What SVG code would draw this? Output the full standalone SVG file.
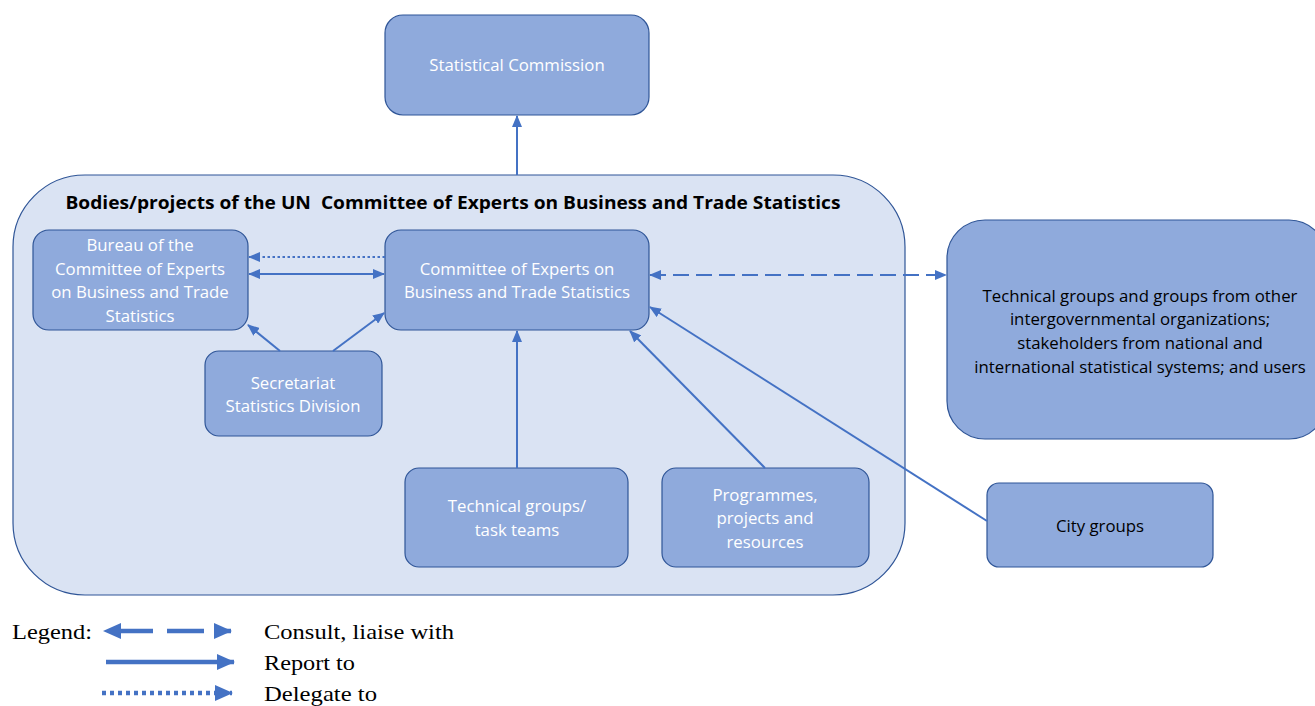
<svg xmlns="http://www.w3.org/2000/svg" width="1315" height="706" viewBox="0 0 1315 706">
<defs>
<marker id="ah" markerUnits="userSpaceOnUse" markerWidth="12" markerHeight="10" refX="11" refY="5" orient="auto-start-reverse"><path d="M0,0 L12,5 L0,10 Z" fill="#4472C4"/></marker>
<marker id="ahL" markerUnits="userSpaceOnUse" markerWidth="18" markerHeight="16" refX="17" refY="8" orient="auto-start-reverse"><path d="M0,0 L18,8 L0,16 Z" fill="#4472C4"/></marker>
<style>
.node{fill:#8FAADC;stroke:#2F5597;stroke-width:1.2}
.cont{fill:#DAE3F3;stroke:#2F5597;stroke-width:1.2}
.t{font-family:"Open Sans","Liberation Sans",sans-serif;font-size:16.8px;text-anchor:middle}
.w{fill:#FFFFFF}
.b{fill:#000000}
.c{stroke:#4472C4;stroke-width:2;fill:none}
.lg{font-family:"Liberation Serif",serif;font-size:22px;fill:#000}
</style>
</defs>
<rect width="1315" height="706" fill="#FFFFFF"/>
<g id="container">
<rect class="cont" x="13" y="175" width="892" height="420" rx="72" ry="72"/>
<text x="453" y="209" style="white-space:pre" font-family="'Open Sans','Liberation Sans',sans-serif" font-weight="bold" font-size="17.5" text-anchor="middle" fill="#000" textLength="775" lengthAdjust="spacingAndGlyphs">Bodies/projects of the UN  Committee of Experts on Business and Trade Statistics</text>
</g>
<g id="statcom"><rect class="node" x="385" y="15" width="264" height="100" rx="18"/><text class="t w" x="517" y="71">Statistical Commission</text></g>
<g id="bureau"><rect class="node" x="33" y="230" width="215" height="100" rx="16"/>
<text class="t w" x="140" y="251">Bureau of the</text><text class="t w" x="140" y="275">Committee of Experts</text><text class="t w" x="140" y="298">on Business and Trade</text><text class="t w" x="140" y="322">Statistics</text></g>
<g id="committee"><rect class="node" x="385" y="230" width="264" height="100" rx="16"/>
<text class="t w" x="517" y="275">Committee of Experts on</text><text class="t w" x="517" y="298">Business and Trade Statistics</text></g>
<g id="secretariat"><rect class="node" x="205" y="351" width="177" height="85" rx="14"/>
<text class="t w" x="293" y="389">Secretariat</text><text class="t w" x="293" y="412">Statistics Division</text></g>
<g id="techteams"><rect class="node" x="405" y="468" width="223" height="99" rx="14"/>
<text class="t w" x="517" y="512">Technical groups/</text><text class="t w" x="517" y="536">task teams</text></g>
<g id="programmes"><rect class="node" x="662" y="468" width="207" height="99" rx="14"/>
<text class="t w" x="765" y="501">Programmes,</text><text class="t w" x="765" y="524">projects and</text><text class="t w" x="765" y="548">resources</text></g>
<g id="stakeholders"><rect class="node" x="947" y="220" width="380" height="219" rx="38"/>
<text class="t b" x="1140" y="302">Technical groups and groups from other</text><text class="t b" x="1140" y="325">intergovernmental organizations;</text><text class="t b" x="1140" y="349">stakeholders from national and</text><text class="t b" x="1140" y="373">international statistical systems; and users</text></g>
<g id="citygroups"><rect class="node" x="987" y="483" width="226" height="84" rx="12"/><text class="t b" x="1100" y="532">City groups</text></g>
<g id="connectors">
<line class="c" x1="517" y1="175" x2="517" y2="116" marker-end="url(#ah)"/>
<line class="c" x1="385" y1="257" x2="249" y2="257" stroke-dasharray="2.5 2.5" marker-end="url(#ah)"/>
<line class="c" x1="249" y1="274" x2="384" y2="274" marker-start="url(#ah)" marker-end="url(#ah)"/>
<line class="c" x1="280" y1="351" x2="248" y2="325" marker-end="url(#ah)"/>
<line class="c" x1="333" y1="351" x2="384" y2="313" marker-end="url(#ah)"/>
<line class="c" x1="517" y1="468" x2="517" y2="331" marker-end="url(#ah)"/>
<line class="c" x1="765" y1="468" x2="630" y2="331" marker-end="url(#ah)"/>
<line class="c" x1="987" y1="521" x2="650" y2="307" marker-end="url(#ah)"/>
<line class="c" x1="650" y1="275" x2="946" y2="275" stroke-dasharray="16 7" marker-start="url(#ah)" marker-end="url(#ah)"/>
</g>
<g id="legend">
<text class="lg" x="12" y="639" textLength="80" lengthAdjust="spacingAndGlyphs">Legend:</text>
<line x1="104" y1="631" x2="231" y2="631" stroke="#4472C4" stroke-width="4.5" stroke-dasharray="0 16 33 14 37 11 0" marker-start="url(#ahL)" marker-end="url(#ahL)"/>
<line x1="106" y1="662" x2="234" y2="662" stroke="#4472C4" stroke-width="4.5" marker-end="url(#ahL)"/>
<line x1="102" y1="693" x2="232" y2="693" stroke="#4472C4" stroke-width="4.5" stroke-dasharray="4 4" marker-end="url(#ahL)"/>
<text class="lg" x="264" y="639" textLength="190" lengthAdjust="spacingAndGlyphs">Consult, liaise with</text>
<text class="lg" x="264" y="670" textLength="91" lengthAdjust="spacingAndGlyphs">Report to</text>
<text class="lg" x="264" y="701" textLength="113" lengthAdjust="spacingAndGlyphs">Delegate to</text>
</g>
</svg>
